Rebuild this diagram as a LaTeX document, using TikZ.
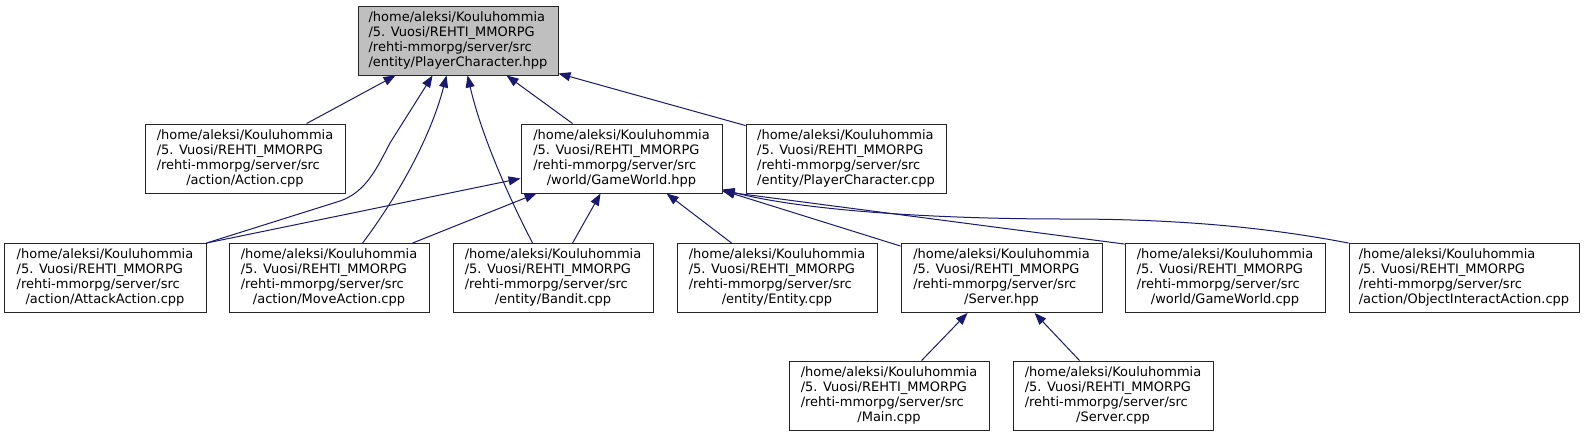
\documentclass[tikz,border=0pt]{standalone}
\usepackage{fontspec}
\setmainfont{DejaVu Sans}
\usetikzlibrary{arrows.meta,calc}
\definecolor{edgecol}{HTML}{191970}
\definecolor{rootfill}{HTML}{BFBFBF}
\newcommand{\flab}[1]{\begin{tabular}{@{}l@{}}/home/aleksi/Kouluhommia\\/5. Vuosi/REHTI\_MMORPG\\/rehti-mmorpg/server/src\\\multicolumn{1}{@{}c@{}}{#1}\end{tabular}}
\tikzset{
  filebox/.style={draw=black!85, line width=0.9pt, fill=white, rectangle,
    minimum width=200pt, minimum height=69pt, inner sep=0pt,
    font=\fontsize{13}{15}\selectfont},
  conn/.style={draw=edgecol, line width=1pt, -{Triangle[length=12pt,width=9pt]}}
}
\begin{document}
\begin{tikzpicture}[x=1pt,y=-1pt]
\useasboundingbox[fill=white] (0,0) rectangle (1586,437);
% nodes
\node[filebox, fill=rootfill] (pch) at (458,40.5) {\flab{/entity/PlayerCharacter.hpp}};
\node[filebox] (act) at (245,158.5) {\flab{/action/Action.cpp}};
\node[filebox, minimum width=201pt] (gwh) at (621.5,158.5) {\flab{/world/GameWorld.hpp}};
\node[filebox] (pcc) at (846,158.5) {\flab{/entity/PlayerCharacter.cpp}};
\node[filebox, minimum width=202pt] (atk) at (105,278) {\flab{/action/AttackAction.cpp}};
\node[filebox] (mov) at (329,278) {\flab{/action/MoveAction.cpp}};
\node[filebox] (ban) at (553,278) {\flab{/entity/Bandit.cpp}};
\node[filebox] (ent) at (777,278) {\flab{/entity/Entity.cpp}};
\node[filebox, minimum width=201pt] (srv) at (1001.5,278) {\flab{/Server.hpp}};
\node[filebox] (gwc) at (1225,278) {\flab{/world/GameWorld.cpp}};
\node[filebox, minimum width=230pt] (oia) at (1464,278) {\flab{/action/ObjectInteractAction.cpp}};
\node[filebox] (mai) at (889,395.5) {\flab{/Main.cpp}};
\node[filebox] (svc) at (1113,395.5) {\flab{/Server.cpp}};
% edges to PlayerCharacter.hpp
\draw[conn] ($(act.north west)+(162,0)$) -- ($(pch.south west)+(38,0)$);
\draw[conn] (atk.north east) -- (340,201) .. controls (366,192) and (377,168) .. (390,143) -- ($(pch.south west)+(75,0)$);
\draw[conn] ($(mov.north west)+(134,0)$) .. controls (395,200) and (430,140) .. ($(pch.south west)+(89,0)$);
\draw[conn] ($(ban.north west)+(80,0)$) .. controls (505,190) and (480,130) .. ($(pch.south west)+(110,0)$);
\draw[conn] ($(gwh.north west)+(52,0)$) -- ($(pch.south west)+(149,0)$);
\draw[conn] ($(pcc.north west)+(0,2)$) -- ($(pch.south east)+(0,-2)$);
% edges to GameWorld.hpp
\draw[conn] (atk.north east) -- ($(gwh.south west)+(0,-15)$);
\draw[conn] ($(mov.north west)+(184,0)$) -- ($(gwh.south west)+(16,0)$);
\draw[conn] ($(ban.north west)+(120,0)$) -- ($(gwh.south west)+(80,0)$);
\draw[conn] ($(ent.north west)+(55,0)$) -- ($(gwh.south west)+(146,0)$);
\draw[conn] ($(srv.north west)+(0,3)$) -- ($(gwh.south east)+(0,-3)$);
\draw[conn] ($(gwc.north west)+(0,1)$) -- ($(gwh.south east)+(0,-2)$);
\draw[conn] (oia.north west) .. controls (1260,226) and (1170,219) .. (1066,219) .. controls (930,219) and (800,210) .. ($(gwh.south east)+(0,-4)$);
% edges to Server.hpp
\draw[conn] ($(mai.north west)+(133,0)$) -- ($(srv.south west)+(67,0)$);
\draw[conn] ($(svc.north west)+(67,0)$) -- ($(srv.south west)+(134,0)$);
\end{tikzpicture}
\end{document}
